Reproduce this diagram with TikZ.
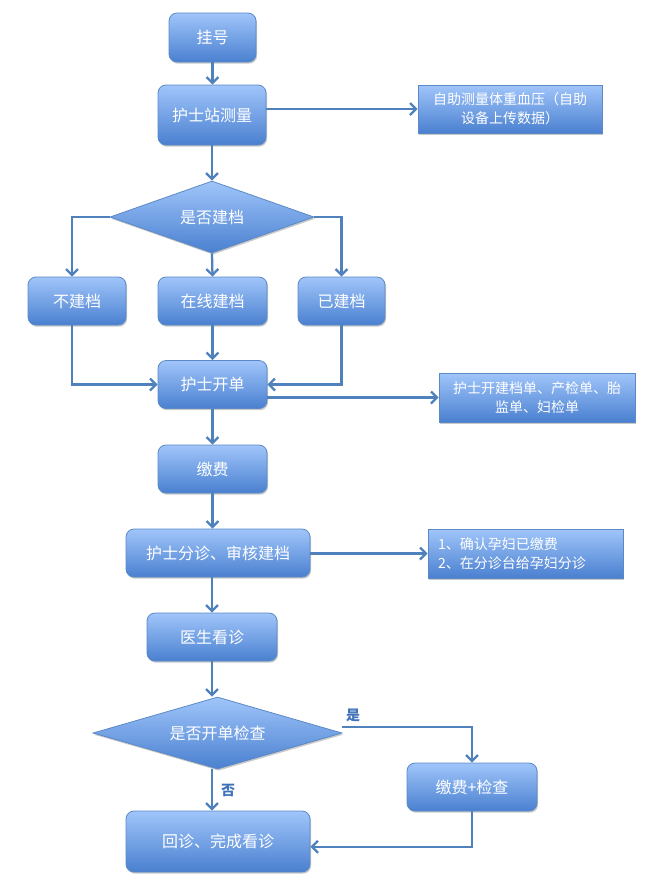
\documentclass[tikz,border=0pt]{standalone}
\usepackage{fontspec}
\setmainfont{Noto Sans CJK SC}
\usetikzlibrary{arrows.meta,shapes.geometric,shadows,calc}
\definecolor{boxtop}{HTML}{A0C5FA}
\definecolor{boxbot}{HTML}{4A80D0}
\definecolor{boxline}{HTML}{5A89C6}
\definecolor{arrowc}{HTML}{4F81BD}
\definecolor{lblc}{HTML}{3F72B8}
\tikzset{
  base/.style={draw=boxline, line width=0.6pt, top color=boxtop, bottom color=boxbot,
    text=white, font=\fontsize{12pt}{14pt}\selectfont, align=center, inner sep=2pt,
    drop shadow={shadow xshift=0.8pt, shadow yshift=-1.3pt, opacity=0.3, fill=black!70}},
  rbox/.style={base, rectangle, rounded corners=6pt},
  sbox/.style={base, rectangle, rounded corners=0pt, font=\fontsize{10.5pt}{14pt}\selectfont},
  dbox/.style={base, diamond, inner sep=0pt},
  conn/.style={draw=arrowc, line width=1.7pt, -{Straight Barb[length=4.5pt,width=9pt]}},
  lbl/.style={text=lblc, font=\fontsize{10.5pt}{12pt}\selectfont\bfseries}
}
\begin{document}
\begin{tikzpicture}[x=0.75pt,y=-0.75pt]
\useasboundingbox (0,0) rectangle (662,879);
\node[rbox, minimum width=65.25pt, minimum height=36.75pt] (gh) at (212.5,37.5) {挂号};
\node[rbox, minimum width=81pt, minimum height=45pt] (cl) at (212,115) {护士站测量};
\node[sbox, minimum width=138pt, minimum height=36pt] (s1) at (510,109) {自助测量体重血压（自助\\设备上传数据）};
\node[dbox, aspect=2.833, minimum width=153pt, minimum height=54pt] (d1) at (212,217) {是否建档};
\node[rbox, minimum width=73.5pt, minimum height=36pt] (bj) at (77,301) {不建档};
\node[rbox, minimum width=81.75pt, minimum height=36pt] (zx) at (212.5,301) {在线建档};
\node[rbox, minimum width=65.25pt, minimum height=36pt] (yj) at (341.5,301) {已建档};
\node[rbox, minimum width=81.75pt, minimum height=36pt] (kd) at (212.5,384.5) {护士开单};
\node[sbox, minimum width=147pt, minimum height=36.75pt] (s2) at (537,397.5) {护士开建档单、产检单、胎\\监单、妇检单};
\node[rbox, minimum width=81.75pt, minimum height=36pt] (jf) at (212.5,469) {缴费};
\node[rbox, minimum width=138pt, minimum height=36pt] (fz) at (218,553) {护士分诊、审核建档};
\node[sbox, minimum width=146.25pt, minimum height=36.75pt, align=left, text width=131pt, inner xsep=7.5pt] (s3) at (525.5,553.5) {1、确认孕妇已缴费\\2、在分诊台给孕妇分诊};
\node[rbox, minimum width=97.5pt, minimum height=36pt] (ys) at (212,637) {医生看诊};
\node[dbox, aspect=3.458, minimum width=186.75pt, minimum height=54pt] (d2) at (217.5,733) {是否开单检查};
\node[rbox, minimum width=97.5pt, minimum height=36pt] (jc) at (472,787) {缴费+检查};
\node[rbox, minimum width=138pt, minimum height=45.75pt] (hz) at (218,841.5) {回诊、完成看诊};

\draw[conn] (gh.south) -- (gh.south |- cl.north);
\draw[conn] (cl.east |- s1) -- (s1.west);
\draw[conn] (cl.south) -- (cl.south |- d1.north);
\draw[conn] (d1.west) -| ([xshift=-3.75pt]bj.north);
\draw[conn] (d1.south) -- (zx.north);
\draw[conn] (d1.east) -| (yj.north);
\draw[conn] ([xshift=-3.75pt]bj.south) |- (kd.west);
\draw[conn] (zx.south) -- (kd.north);
\draw[conn] (yj.south) |- (kd.east);
\draw[conn] (kd.east |- s2) -- (s2.west);
\draw[conn] (kd.south) -- (jf.north);
\draw[conn] (jf.south) -- (jf.south |- fz.north);
\draw[conn] (fz.east |- s3) -- (s3.west);
\draw[conn] (ys.north |- fz.south) -- (ys.north);
\draw[conn] (ys.south) -- (ys.south |- d2.north);
\draw[conn] ([yshift=4.5pt]d2.east) -| (jc.north);
\draw[conn] (ys.south |- d2.south) -- (ys.south |- hz.north);
\draw[conn] (jc.south) |- ([yshift=-4pt]hz.east);
\coordinate (yeslbl) at (353,715);
\coordinate (nolbl) at (228,790);
\node[lbl] (yes) at (yeslbl) {是};
\node[lbl] (no) at (nolbl) {否};
\end{tikzpicture}
\end{document}
